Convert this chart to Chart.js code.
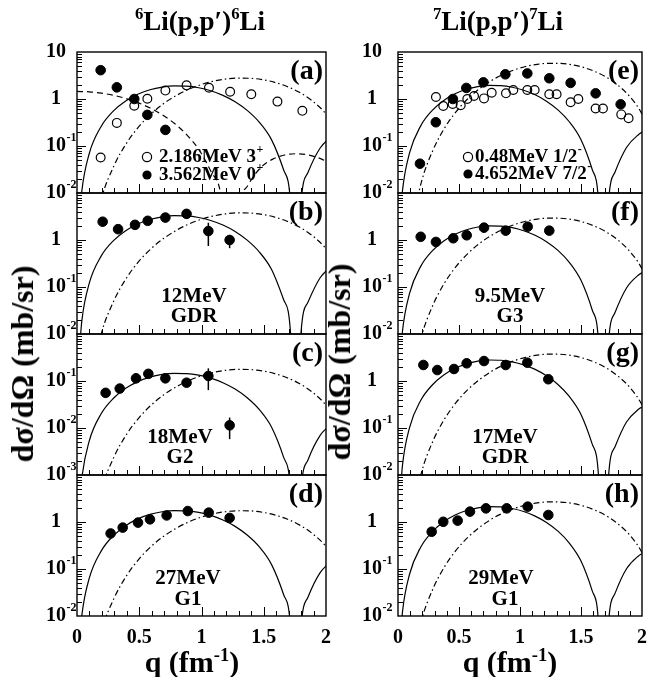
<!DOCTYPE html>
<html>
<head>
<meta charset="utf-8">
<script src="https://cdn.jsdelivr.net/npm/chart.js@4.4.1/dist/chart.umd.min.js"></script>
<style>
  body { margin: 0; background: #fff; }
  #wrap { position: relative; width: 648px; height: 677px; overflow: hidden; font-family: "Liberation Serif", "DejaVu Serif", serif; font-weight: bold; color: #000; }
  #wrap canvas { position: absolute; left: 0; top: 0; }
  .t { position: absolute; white-space: nowrap; line-height: 1; transform: translate(-50%, -50%); }
  .t sup { font-size: 0.62em; vertical-align: 0.6em; line-height: 0; }
  .rot { transform: translate(-50%, -50%) rotate(-90deg); }
</style>
</head>
<body>
<div id="wrap">
  <canvas id="pa" width="648" height="677"></canvas>
  <canvas id="pb" width="648" height="677"></canvas>
  <canvas id="pc" width="648" height="677"></canvas>
  <canvas id="pd" width="648" height="677"></canvas>
  <canvas id="pe" width="648" height="677"></canvas>
  <canvas id="pf" width="648" height="677"></canvas>
  <canvas id="pg" width="648" height="677"></canvas>
  <canvas id="ph" width="648" height="677"></canvas>
  <div class="t" style="left:200px;top:21px;font-size:27px"><sup>6</sup>Li(p,p′)<sup>6</sup>Li</div>
  <div class="t" style="left:498px;top:21px;font-size:27px"><sup>7</sup>Li(p,p′)<sup>7</sup>Li</div>
  <div class="t rot" style="left:22px;top:364px;font-size:32px">dσ/dΩ (mb/sr)</div>
  <div class="t rot" style="left:339px;top:362px;font-size:32px">dσ/dΩ (mb/sr)</div>
  <div class="t" style="left:192px;top:662px;font-size:30px">q (fm<sup>-1</sup>)</div>
  <div class="t" style="left:510px;top:662px;font-size:30px">q (fm<sup>-1</sup>)</div>
</div>
<script>
// axis tick labels
const qTickVals = [0, 0.5, 1, 1.5, 2];
const qTickText = ['0', '0.5', '1', '1.5', '2'];
const decadeVals = [10, 1, 0.1, 0.01, 0.001];
const decadeBase = ['10', '1', '10', '10', '10'];
const decadeSup = ['', '', '-1', '-2', '-3'];

// theory curves: q grids (left = 6Li, right = 7Li)
const qSolidL = [0.020, 0.039, 0.098, 0.195, 0.293, 0.391, 0.488, 0.586, 0.684, 0.781, 0.879, 0.977, 1.074, 1.172, 1.270, 1.367, 1.465, 1.563, 1.660, 1.719, 1.755, 1.797, 1.855, 1.953, 2.051];
const qSolidR = [0.019, 0.037, 0.094, 0.187, 0.281, 0.375, 0.468, 0.562, 0.655, 0.749, 0.843, 0.936, 1.030, 1.124, 1.217, 1.311, 1.404, 1.498, 1.592, 1.648, 1.683, 1.723, 1.779, 1.873, 1.966, 2.060];
const qDotL = [0.099, 0.198, 0.298, 0.397, 0.496, 0.595, 0.694, 0.794, 0.893, 0.992, 1.091, 1.190, 1.290, 1.389, 1.488, 1.587, 1.687, 1.786, 1.885, 1.984, 2.083, 2.183];
const qDotR = [0.095, 0.190, 0.285, 0.380, 0.475, 0.570, 0.665, 0.760, 0.856, 0.951, 1.046, 1.141, 1.236, 1.331, 1.426, 1.521, 1.616, 1.711, 1.806, 1.901, 1.996, 2.091];
const qDashA = [0, 0.098, 0.196, 0.294, 0.392, 0.490, 0.588, 0.686, 0.784, 0.882, 0.980, 1.078, 1.176, 1.232, 1.275, 1.373, 1.471, 1.569, 1.667, 1.765, 1.863, 1.961, 2.059];

// solid curves
const solidA = [0.00277, 0.0111, 0.0684, 0.264, 0.559, 0.908, 1.264, 1.573, 1.794, 1.9, 1.877, 1.735, 1.497, 1.197, 0.876, 0.572, 0.319, 0.135, 0.0308, 0.0043, 0.000001, 0.0051, 0.0272, 0.0906, 0.166];
const solidB = [0.00482, 0.0193, 0.119, 0.459, 0.970, 1.577, 2.195, 2.732, 3.115, 3.3, 3.260, 3.013, 2.600, 2.079, 1.521, 0.993, 0.554, 0.235, 0.0535, 0.0075, 0.000001, 0.0089, 0.0472, 0.157, 0.288];
const solidC = [0.000213, 0.000856, 0.00526, 0.0203, 0.0429, 0.0698, 0.0971, 0.121, 0.138, 0.146, 0.144, 0.133, 0.115, 0.0920, 0.0673, 0.0439, 0.0245, 0.0104, 0.00237, 0.00033, 0.0000001, 0.00039, 0.00209, 0.00696, 0.0127];
const solidD = [0.00256, 0.0103, 0.063, 0.243, 0.515, 0.837, 1.164, 1.449, 1.652, 1.75, 1.729, 1.598, 1.379, 1.103, 0.807, 0.527, 0.294, 0.124, 0.0284, 0.0040, 0.000001, 0.0047, 0.0250, 0.0835, 0.153];
const solidE = [0.00285, 0.0114, 0.0702, 0.271, 0.573, 0.932, 1.297, 1.615, 1.841, 1.95, 1.927, 1.780, 1.537, 1.229, 0.899, 0.587, 0.328, 0.139, 0.0316, 0.0044, 0.000001, 0.0052, 0.0279, 0.0930, 0.170, 0.238];
const solidF = [0.00292, 0.0117, 0.072, 0.278, 0.588, 0.956, 1.33, 1.656, 1.888, 2.0, 1.976, 1.826, 1.576, 1.26, 0.922, 0.602, 0.336, 0.142, 0.0324, 0.0045, 0.000001, 0.0054, 0.0286, 0.0954, 0.175, 0.244];
const solidG = [0.00409, 0.0164, 0.101, 0.389, 0.823, 1.338, 1.862, 2.318, 2.643, 2.8, 2.766, 2.556, 2.206, 1.764, 1.291, 0.843, 0.470, 0.199, 0.0454, 0.0063, 0.000001, 0.0075, 0.0400, 0.134, 0.244, 0.342];
const solidH = [0.0031, 0.0124, 0.0763, 0.295, 0.623, 1.013, 1.410, 1.755, 2.001, 2.12, 2.095, 1.936, 1.671, 1.336, 0.977, 0.638, 0.356, 0.151, 0.0343, 0.0048, 0.000001, 0.0057, 0.0303, 0.101, 0.185, 0.259];

// dash-dot curves
const dotA = [0.00051, 0.00795, 0.0385, 0.114, 0.257, 0.482, 0.790, 1.168, 1.588, 2.005, 2.374, 2.643, 2.778, 2.758, 2.582, 2.265, 1.848, 1.389, 0.932, 0.539, 0.241, 0.0608];
const dotB = [0.00069, 0.0108, 0.0522, 0.155, 0.349, 0.654, 1.072, 1.585, 2.155, 2.721, 3.222, 3.587, 3.770, 3.743, 3.504, 3.074, 2.508, 1.885, 1.265, 0.732, 0.327, 0.0825];
const dotC = [0.0000324, 0.000506, 0.00245, 0.00726, 0.0163, 0.0306, 0.0502, 0.0742, 0.1009, 0.1274, 0.151, 0.168, 0.1766, 0.1753, 0.1641, 0.144, 0.1175, 0.0883, 0.0593, 0.0343, 0.0153, 0.00386];
const dotD = [0.00032, 0.00497, 0.0240, 0.0714, 0.161, 0.301, 0.494, 0.730, 0.992, 1.253, 1.484, 1.652, 1.736, 1.724, 1.614, 1.416, 1.155, 0.868, 0.583, 0.337, 0.151, 0.038];
const dotE = [0.00106, 0.0165, 0.0797, 0.237, 0.532, 0.998, 1.636, 2.419, 3.289, 4.153, 4.918, 5.475, 5.754, 5.713, 5.348, 4.692, 3.828, 2.877, 1.931, 1.117, 0.499, 0.126];
const dotF = [0.00054, 0.00838, 0.0405, 0.120, 0.271, 0.507, 0.832, 1.230, 1.673, 2.112, 2.502, 2.785, 2.926, 2.906, 2.720, 2.387, 1.947, 1.463, 0.982, 0.568, 0.254, 0.064];
const dotG = [0.00068, 0.0107, 0.0517, 0.153, 0.345, 0.647, 1.060, 1.568, 2.132, 2.692, 3.188, 3.549, 3.730, 3.704, 3.467, 3.042, 2.482, 1.865, 1.252, 0.724, 0.323, 0.0816];
const dotH = [0.00049, 0.00767, 0.0371, 0.110, 0.248, 0.464, 0.761, 1.126, 1.531, 1.933, 2.290, 2.549, 2.678, 2.660, 2.489, 2.184, 1.782, 1.339, 0.899, 0.520, 0.232, 0.0586];

// dashed curve, panel (a) only
const dashA = [1.45, 1.42, 1.333, 1.198, 1.027, 0.836, 0.641, 0.458, 0.300, 0.173, 0.0831, 0.0279, 0.0032, 0.000001, 0.0016, 0.0146, 0.0337, 0.0519, 0.0643, 0.0684, 0.0642, 0.0533, 0.0388];

// measured points
const qOpenA = [0.19, 0.32, 0.46, 0.565, 0.71, 0.88, 1.06, 1.23, 1.40, 1.61, 1.81];
const openA = [0.057, 0.31, 0.72, 1.01, 1.51, 1.95, 1.74, 1.43, 1.26, 0.88, 0.56];
const qFillA = [0.19, 0.32, 0.46, 0.565, 0.71];
const fillA = [4.1, 1.77, 1.0, 0.46, 0.22];

const qB = [0.206, 0.33, 0.466, 0.568, 0.71, 0.88, 1.055, 1.226];
const valB = [2.45, 1.7, 2.1, 2.56, 3.0, 3.6, 1.55, 1.0];
const errB = [null, null, null, null, null, null, [0.745, 2.33], [0.67, 1.28]];

const qC = [0.23, 0.343, 0.474, 0.573, 0.71, 0.88, 1.055, 1.226];
const valC = [0.056, 0.069, 0.114, 0.142, 0.114, 0.092, 0.128, 0.0114];
const errC = [null, null, null, null, null, null, [0.064, 0.186], [0.0058, 0.0167]];

const qD = [0.27, 0.367, 0.49, 0.586, 0.72, 0.89, 1.058, 1.226];
const valD = [0.57, 0.76, 0.97, 1.14, 1.38, 1.71, 1.58, 1.22];

const qOpenE = [0.311, 0.371, 0.448, 0.514, 0.568, 0.623, 0.705, 0.768, 0.885, 0.945, 1.06, 1.12, 1.24, 1.30, 1.415, 1.478, 1.62, 1.68, 1.83, 1.89];
const openE = [1.1, 0.71, 0.78, 0.74, 1.0, 1.16, 1.03, 1.36, 1.32, 1.55, 1.55, 1.55, 1.26, 1.26, 0.85, 1.0, 0.63, 0.63, 0.47, 0.39];
const qFillE = [0.18, 0.31, 0.45, 0.56, 0.70, 0.88, 1.06, 1.24, 1.415, 1.62, 1.825];
const fillE = [0.042, 0.32, 1.0, 1.72, 2.26, 3.35, 3.5, 2.76, 2.2, 1.32, 0.77];

const qF = [0.186, 0.311, 0.453, 0.563, 0.705, 0.883, 1.063, 1.24];
const valF = [1.17, 0.91, 1.09, 1.26, 1.83, 1.58, 1.92, 1.58];

const qG = [0.208, 0.322, 0.459, 0.563, 0.705, 0.883, 1.06, 1.232];
const valG = [2.19, 1.71, 1.8, 2.38, 2.66, 2.19, 2.45, 1.09];

const qH = [0.276, 0.371, 0.489, 0.59, 0.721, 0.891, 1.063, 1.232];
const valH = [0.62, 1.01, 1.07, 1.66, 1.95, 1.95, 2.12, 1.41];

// ---- helpers ----
const W = 648, H = 677;
const FONT = '"Liberation Serif", "DejaVu Serif", serif';

function pts(qs, vs) {
    return qs.map((q, i) => ({ x: q, y: vs[i] }));
}

function curve(qs, vs, dash) {
    return {
        data: pts(qs, vs),
        showLine: true,
        borderColor: '#000',
        borderWidth: 1.2,
        borderDash: dash || [],
        pointRadius: 0,
        cubicInterpolationMode: 'monotone',
        fill: false
    };
}

function filled(qs, vs) {
    return {
        data: pts(qs, vs),
        showLine: false,
        pointRadius: 4.8,
        pointBackgroundColor: '#000',
        pointBorderColor: '#000',
        pointBorderWidth: 1
    };
}

function open(qs, vs) {
    return {
        data: pts(qs, vs),
        showLine: false,
        pointRadius: 4.4,
        pointBackgroundColor: 'rgba(0,0,0,0)',
        pointBorderColor: '#000',
        pointBorderWidth: 1.2
    };
}

const DASHDOT = [6, 3, 1.5, 3];
const DASHED = [6, 4];

function drawSup(ctx, x, y, base, sup, size, align) {
    // base text + raised exponent; x is the centre of the base
    ctx.font = 'bold ' + size + 'px ' + FONT;
    const bw = ctx.measureText(base).width;
    let x0 = align === 'left' ? x : x - bw / 2;
    ctx.textAlign = 'left';
    ctx.textBaseline = 'middle';
    ctx.fillText(base, x0, y);
    if (sup) {
        ctx.font = 'bold ' + Math.round(size * 0.62) + 'px ' + FONT;
        ctx.fillText(sup, x0 + bw + 0.5, y - size * 0.38);
    }
}

function panelPlugin(p) {
    return {
        id: 'panel_' + p.id,
        beforeDatasetsDraw(chart) {
            if (!p.err) return;
            const { ctx, scales: { x, y } } = chart;
            ctx.save();
            ctx.strokeStyle = '#000';
            ctx.lineWidth = 1.5;
            p.err.forEach((e, i) => {
                if (!e) return;
                const px = x.getPixelForValue(p.errQ[i]);
                ctx.beginPath();
                ctx.moveTo(px, y.getPixelForValue(e[0]));
                ctx.lineTo(px, y.getPixelForValue(e[1]));
                ctx.stroke();
            });
            ctx.restore();
        },
        afterDraw(chart) {
            const { ctx, chartArea: a, scales: { x, y } } = chart;
            ctx.save();
            ctx.fillStyle = '#000';
            ctx.strokeStyle = '#000';
            ctx.lineWidth = 1.4;
            ctx.strokeRect(a.left, a.top, a.right - a.left, a.bottom - a.top);

            // inward ticks on bottom axis
            ctx.lineWidth = 1;
            ctx.beginPath();
            for (let i = 1; i < 20; i++) {
                const px = Math.round(x.getPixelForValue(i / 10)) + 0.5;
                const len = i % 5 === 0 ? 9 : 5;
                ctx.moveTo(px, a.bottom);
                ctx.lineTo(px, a.bottom - len);
            }
            // inward ticks on left axis
            for (let k = Math.round(Math.log10(p.yMin)); k < Math.round(Math.log10(p.yMax)); k++) {
                for (let m = 1; m <= 9; m++) {
                    const v = m * Math.pow(10, k);
                    if (v <= p.yMin) continue;
                    const py = Math.round(y.getPixelForValue(v)) + 0.5;
                    const len = m === 1 ? 9 : 5;
                    ctx.moveTo(a.left, py);
                    ctx.lineTo(a.left + len, py);
                }
            }
            ctx.stroke();

            // decade labels
            decadeVals.forEach((v, i) => {
                if (v < p.yMin * 0.99 || v > p.yMax * 1.01) return;
                if (v > p.yMax * 0.99 && !p.showTop) return;
                drawSup(ctx, a.left - p.labelDx, y.getPixelForValue(v), decadeBase[i], decadeSup[i], 20);
            });

            // q labels under the bottom row
            if (p.bottomRow) {
                ctx.font = 'bold 20px ' + FONT;
                ctx.textAlign = 'center';
                ctx.textBaseline = 'middle';
                qTickVals.forEach((q, i) => {
                    ctx.fillText(qTickText[i], x.getPixelForValue(q), a.bottom + 22);
                });
            }

            // panel letter
            ctx.font = 'bold 28px ' + FONT;
            ctx.textAlign = 'right';
            ctx.textBaseline = 'middle';
            ctx.fillText(p.letter, a.right - 3, a.top + 20);

            // annotations
            ctx.font = 'bold 21px ' + FONT;
            ctx.textAlign = 'center';
            (p.notes || []).forEach(n => ctx.fillText(n[0], n[1], n[2]));

            // legend rows
            (p.legend || []).forEach(l => {
                ctx.beginPath();
                ctx.arc(l.mx, l.my, 4.6, 0, Math.PI * 2);
                if (l.filled) { ctx.fill(); } else { ctx.lineWidth = 1.2; ctx.stroke(); }
                drawSup(ctx, l.tx, l.my, l.text, l.sup, 19, 'left');
            });
            ctx.restore();
        }
    };
}

function makeChart(p) {
    return new Chart(document.getElementById(p.id), {
        type: 'scatter',
        data: { datasets: p.sets },
        options: {
            responsive: false,
            animation: false,
            devicePixelRatio: 1,
            layout: { padding: { left: p.left, top: p.top, right: W - p.right, bottom: H - p.top - 141 } },
            plugins: { legend: { display: false }, tooltip: { enabled: false } },
            scales: {
                x: { type: 'linear', min: 0, max: 2, display: false },
                y: { type: 'logarithmic', min: p.yMin, max: p.yMax, display: false }
            }
        },
        plugins: [panelPlugin(p)]
    });
}

const LX = [77, 326], RX = [398, 642];
const rowTop = [52, 193, 334, 475];

const panels = [
    { id: 'pa', left: LX[0], right: LX[1], top: rowTop[0], yMin: 0.01, yMax: 10, showTop: true, letter: '(a)', labelDx: 21,
      sets: [open(qOpenA, openA), filled(qFillA, fillA), curve(qSolidL, solidA), curve(qDotL, dotA, DASHDOT), curve(qDashA, dashA, DASHED)],
      legend: [
        { mx: 147, my: 157, tx: 159, text: '2.186MeV 3', sup: '+', filled: false },
        { mx: 147, my: 175, tx: 159, text: '3.562MeV 0', sup: '+', filled: true }
      ] },
    { id: 'pb', left: LX[0], right: LX[1], top: rowTop[1], yMin: 0.01, yMax: 10, letter: '(b)', labelDx: 21,
      sets: [filled(qB, valB), curve(qSolidL, solidB), curve(qDotL, dotB, DASHDOT)],
      err: errB, errQ: qB, notes: [['12MeV', 194, 297], ['GDR', 194, 317]] },
    { id: 'pc', left: LX[0], right: LX[1], top: rowTop[2], yMin: 0.001, yMax: 1, letter: '(c)', labelDx: 21,
      sets: [filled(qC, valC), curve(qSolidL, solidC), curve(qDotL, dotC, DASHDOT)],
      err: errC, errQ: qC, notes: [['18MeV', 180, 438], ['G2', 180, 458]] },
    { id: 'pd', left: LX[0], right: LX[1], top: rowTop[3], yMin: 0.01, yMax: 10, letter: '(d)', labelDx: 21, bottomRow: true,
      sets: [filled(qD, valD), curve(qSolidL, solidD), curve(qDotL, dotD, DASHDOT)],
      notes: [['27MeV', 188, 579], ['G1', 188, 600]] },
    { id: 'pe', left: RX[0], right: RX[1], top: rowTop[0], yMin: 0.01, yMax: 10, showTop: true, letter: '(e)', labelDx: 26,
      sets: [open(qOpenE, openE), filled(qFillE, fillE), curve(qSolidR, solidE), curve(qDotR, dotE, DASHDOT)],
      legend: [
        { mx: 468, my: 157, tx: 475, text: '0.48MeV 1/2', sup: '-', filled: false },
        { mx: 468, my: 174, tx: 475, text: '4.652MeV 7/2', sup: '-', filled: true }
      ] },
    { id: 'pf', left: RX[0], right: RX[1], top: rowTop[1], yMin: 0.01, yMax: 10, letter: '(f)', labelDx: 26,
      sets: [filled(qF, valF), curve(qSolidR, solidF), curve(qDotR, dotF, DASHDOT)],
      notes: [['9.5MeV', 510, 297], ['G3', 510, 317]] },
    { id: 'pg', left: RX[0], right: RX[1], top: rowTop[2], yMin: 0.01, yMax: 10, letter: '(g)', labelDx: 26,
      sets: [filled(qG, valG), curve(qSolidR, solidG), curve(qDotR, dotG, DASHDOT)],
      notes: [['17MeV', 505, 438], ['GDR', 505, 458]] },
    { id: 'ph', left: RX[0], right: RX[1], top: rowTop[3], yMin: 0.01, yMax: 10, letter: '(h)', labelDx: 26, bottomRow: true,
      sets: [filled(qH, valH), curve(qSolidR, solidH), curve(qDotR, dotH, DASHDOT)],
      notes: [['29MeV', 501, 579], ['G1', 505, 600]] }
];

panels.forEach(makeChart);
</script>
</body>
</html>
